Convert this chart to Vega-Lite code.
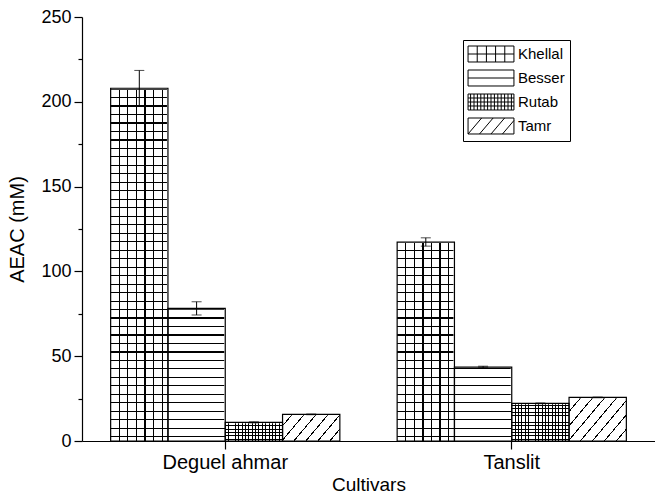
{
 "$schema": "https://vega.github.io/schema/vega-lite/v6.json",
 "width": 573, "height": 424,
 "autosize": {"type": "none"},
 "padding": {"left": 82, "top": 17, "right": 0, "bottom": 57},
 "background": "white",
 "config": {"view": {"stroke": null}, "font": "Liberation Sans"},
 "data": {"values": [
  {"cultivar": "Deguel ahmar", "stage": "Khellal", "value": 208, "lo": 197.8, "hi": 218.5},
  {"cultivar": "Deguel ahmar", "stage": "Besser", "value": 78.2, "lo": 74.3, "hi": 82.1},
  {"cultivar": "Deguel ahmar", "stage": "Rutab", "value": 11, "lo": 10.7, "hi": 11.3},
  {"cultivar": "Deguel ahmar", "stage": "Tamr", "value": 15.7, "lo": 15.5, "hi": 15.9},
  {"cultivar": "Tanslit", "stage": "Khellal", "value": 117.3, "lo": 114.9, "hi": 119.8},
  {"cultivar": "Tanslit", "stage": "Besser", "value": 43.6, "lo": 43.1, "hi": 44.1},
  {"cultivar": "Tanslit", "stage": "Rutab", "value": 22.2, "lo": 22.0, "hi": 22.4},
  {"cultivar": "Tanslit", "stage": "Tamr", "value": 25.7, "lo": 25.5, "hi": 25.9}
 ]},
 "encoding": {
  "x": {"field": "cultivar", "type": "nominal", "sort": ["Deguel ahmar", "Tanslit"],
   "scale": {"paddingInner": 0.2, "paddingOuter": 0.1},
   "axis": {"title": "Cultivars", "labelAngle": 0, "domainColor": "black", "domainWidth": 1.2, "tickColor": "black", "tickWidth": 1.2, "tickSize": 8,
    "labelColor": "black", "labelFont": "Liberation Sans", "labelFontSize": 20, "labelPadding": 3,
    "titleColor": "black", "titleFont": "Liberation Sans", "titleFontSize": 19, "titleFontWeight": "normal", "titlePadding": 3}},
  "xOffset": {"field": "stage", "type": "nominal", "scale": {"domain": ["Khellal", "Besser", "Rutab", "Tamr"], "paddingInner": 0, "paddingOuter": 0}}
 },
 "layer": [
  {"transform": [{"filter": "datum.stage === 'Khellal'"}],
   "mark": {"type": "bar", "strokeWidth": 0, "fill": {"gradient": "linear", "x1": 0, "y1": 0, "x2": 1, "y2": 0, "stops": [
    {"offset": 0, "color": "white"},
    {"offset": 0.139, "color": "white"}, {"offset": 0.139, "color": "black"}, {"offset": 0.161, "color": "black"}, {"offset": 0.161, "color": "white"},
    {"offset": 0.289, "color": "white"}, {"offset": 0.289, "color": "black"}, {"offset": 0.311, "color": "black"}, {"offset": 0.311, "color": "white"},
    {"offset": 0.439, "color": "white"}, {"offset": 0.439, "color": "black"}, {"offset": 0.461, "color": "black"}, {"offset": 0.461, "color": "white"},
    {"offset": 0.589, "color": "white"}, {"offset": 0.589, "color": "black"}, {"offset": 0.611, "color": "black"}, {"offset": 0.611, "color": "white"},
    {"offset": 0.739, "color": "white"}, {"offset": 0.739, "color": "black"}, {"offset": 0.761, "color": "black"}, {"offset": 0.761, "color": "white"},
    {"offset": 0.889, "color": "white"}, {"offset": 0.889, "color": "black"}, {"offset": 0.911, "color": "black"}, {"offset": 0.911, "color": "white"},
    {"offset": 1, "color": "white"}]}},
   "encoding": {
    "y": {"datum": 0, "type": "quantitative", "scale": {"domain": [0, 250], "nice": false},
     "axis": {"title": "AEAC (mM)", "values": [0, 25, 50, 75, 100, 125, 150, 175, 200, 225, 250],
      "labelExpr": "datum.value % 50 === 0 ? datum.label : ''", "labelOverlap": false, "labelFlush": false,
      "tickSize": {"condition": {"test": "datum.value % 50 === 0", "value": 8}, "value": 4},
      "grid": false, "domainColor": "black", "domainWidth": 1.2, "tickColor": "black", "tickWidth": 1.2,
      "labelColor": "black", "labelFont": "Liberation Sans", "labelFontSize": 18, "labelPadding": 3,
      "titleColor": "black", "titleFont": "Liberation Sans", "titleFontSize": 20, "titleFontWeight": "normal", "titlePadding": 13}},
    "y2": {"datum": 250}}},
  {"transform": [{"filter": "datum.stage === 'Khellal' || datum.stage === 'Besser'"}],
   "mark": {"type": "bar", "strokeWidth": 0, "fill": {"gradient": "linear", "x1": 0, "y1": 0, "x2": 0, "y2": 1, "stops": [
    {"offset": 0, "color": "transparent"},
    {"offset": 0.0087, "color": "transparent"}, {"offset": 0.0087, "color": "black"}, {"offset": 0.0113, "color": "black"}, {"offset": 0.0113, "color": "transparent"},
    {"offset": 0.0287, "color": "transparent"}, {"offset": 0.0287, "color": "black"}, {"offset": 0.0313, "color": "black"}, {"offset": 0.0313, "color": "transparent"},
    {"offset": 0.0487, "color": "transparent"}, {"offset": 0.0487, "color": "black"}, {"offset": 0.0513, "color": "black"}, {"offset": 0.0513, "color": "transparent"},
    {"offset": 0.0687, "color": "transparent"}, {"offset": 0.0687, "color": "black"}, {"offset": 0.0713, "color": "black"}, {"offset": 0.0713, "color": "transparent"},
    {"offset": 0.0887, "color": "transparent"}, {"offset": 0.0887, "color": "black"}, {"offset": 0.0913, "color": "black"}, {"offset": 0.0913, "color": "transparent"},
    {"offset": 0.1087, "color": "transparent"}, {"offset": 0.1087, "color": "black"}, {"offset": 0.1113, "color": "black"}, {"offset": 0.1113, "color": "transparent"},
    {"offset": 0.1287, "color": "transparent"}, {"offset": 0.1287, "color": "black"}, {"offset": 0.1313, "color": "black"}, {"offset": 0.1313, "color": "transparent"},
    {"offset": 0.1487, "color": "transparent"}, {"offset": 0.1487, "color": "black"}, {"offset": 0.1513, "color": "black"}, {"offset": 0.1513, "color": "transparent"},
    {"offset": 0.1687, "color": "transparent"}, {"offset": 0.1687, "color": "black"}, {"offset": 0.1713, "color": "black"}, {"offset": 0.1713, "color": "transparent"},
    {"offset": 0.1887, "color": "transparent"}, {"offset": 0.1887, "color": "black"}, {"offset": 0.1913, "color": "black"}, {"offset": 0.1913, "color": "transparent"},
    {"offset": 0.2087, "color": "transparent"}, {"offset": 0.2087, "color": "black"}, {"offset": 0.2113, "color": "black"}, {"offset": 0.2113, "color": "transparent"},
    {"offset": 0.2287, "color": "transparent"}, {"offset": 0.2287, "color": "black"}, {"offset": 0.2313, "color": "black"}, {"offset": 0.2313, "color": "transparent"},
    {"offset": 0.2487, "color": "transparent"}, {"offset": 0.2487, "color": "black"}, {"offset": 0.2513, "color": "black"}, {"offset": 0.2513, "color": "transparent"},
    {"offset": 0.2687, "color": "transparent"}, {"offset": 0.2687, "color": "black"}, {"offset": 0.2713, "color": "black"}, {"offset": 0.2713, "color": "transparent"},
    {"offset": 0.2887, "color": "transparent"}, {"offset": 0.2887, "color": "black"}, {"offset": 0.2913, "color": "black"}, {"offset": 0.2913, "color": "transparent"},
    {"offset": 0.3087, "color": "transparent"}, {"offset": 0.3087, "color": "black"}, {"offset": 0.3113, "color": "black"}, {"offset": 0.3113, "color": "transparent"},
    {"offset": 0.3287, "color": "transparent"}, {"offset": 0.3287, "color": "black"}, {"offset": 0.3313, "color": "black"}, {"offset": 0.3313, "color": "transparent"},
    {"offset": 0.3487, "color": "transparent"}, {"offset": 0.3487, "color": "black"}, {"offset": 0.3513, "color": "black"}, {"offset": 0.3513, "color": "transparent"},
    {"offset": 0.3687, "color": "transparent"}, {"offset": 0.3687, "color": "black"}, {"offset": 0.3713, "color": "black"}, {"offset": 0.3713, "color": "transparent"},
    {"offset": 0.3887, "color": "transparent"}, {"offset": 0.3887, "color": "black"}, {"offset": 0.3913, "color": "black"}, {"offset": 0.3913, "color": "transparent"},
    {"offset": 0.4087, "color": "transparent"}, {"offset": 0.4087, "color": "black"}, {"offset": 0.4113, "color": "black"}, {"offset": 0.4113, "color": "transparent"},
    {"offset": 0.4287, "color": "transparent"}, {"offset": 0.4287, "color": "black"}, {"offset": 0.4313, "color": "black"}, {"offset": 0.4313, "color": "transparent"},
    {"offset": 0.4487, "color": "transparent"}, {"offset": 0.4487, "color": "black"}, {"offset": 0.4513, "color": "black"}, {"offset": 0.4513, "color": "transparent"},
    {"offset": 0.4687, "color": "transparent"}, {"offset": 0.4687, "color": "black"}, {"offset": 0.4713, "color": "black"}, {"offset": 0.4713, "color": "transparent"},
    {"offset": 0.4887, "color": "transparent"}, {"offset": 0.4887, "color": "black"}, {"offset": 0.4913, "color": "black"}, {"offset": 0.4913, "color": "transparent"},
    {"offset": 0.5087, "color": "transparent"}, {"offset": 0.5087, "color": "black"}, {"offset": 0.5113, "color": "black"}, {"offset": 0.5113, "color": "transparent"},
    {"offset": 0.5287, "color": "transparent"}, {"offset": 0.5287, "color": "black"}, {"offset": 0.5313, "color": "black"}, {"offset": 0.5313, "color": "transparent"},
    {"offset": 0.5487, "color": "transparent"}, {"offset": 0.5487, "color": "black"}, {"offset": 0.5513, "color": "black"}, {"offset": 0.5513, "color": "transparent"},
    {"offset": 0.5687, "color": "transparent"}, {"offset": 0.5687, "color": "black"}, {"offset": 0.5713, "color": "black"}, {"offset": 0.5713, "color": "transparent"},
    {"offset": 0.5887, "color": "transparent"}, {"offset": 0.5887, "color": "black"}, {"offset": 0.5913, "color": "black"}, {"offset": 0.5913, "color": "transparent"},
    {"offset": 0.6087, "color": "transparent"}, {"offset": 0.6087, "color": "black"}, {"offset": 0.6113, "color": "black"}, {"offset": 0.6113, "color": "transparent"},
    {"offset": 0.6287, "color": "transparent"}, {"offset": 0.6287, "color": "black"}, {"offset": 0.6313, "color": "black"}, {"offset": 0.6313, "color": "transparent"},
    {"offset": 0.6487, "color": "transparent"}, {"offset": 0.6487, "color": "black"}, {"offset": 0.6513, "color": "black"}, {"offset": 0.6513, "color": "transparent"},
    {"offset": 0.6687, "color": "transparent"}, {"offset": 0.6687, "color": "black"}, {"offset": 0.6713, "color": "black"}, {"offset": 0.6713, "color": "transparent"},
    {"offset": 0.6887, "color": "transparent"}, {"offset": 0.6887, "color": "black"}, {"offset": 0.6913, "color": "black"}, {"offset": 0.6913, "color": "transparent"},
    {"offset": 0.7087, "color": "transparent"}, {"offset": 0.7087, "color": "black"}, {"offset": 0.7113, "color": "black"}, {"offset": 0.7113, "color": "transparent"},
    {"offset": 0.7287, "color": "transparent"}, {"offset": 0.7287, "color": "black"}, {"offset": 0.7313, "color": "black"}, {"offset": 0.7313, "color": "transparent"},
    {"offset": 0.7487, "color": "transparent"}, {"offset": 0.7487, "color": "black"}, {"offset": 0.7513, "color": "black"}, {"offset": 0.7513, "color": "transparent"},
    {"offset": 0.7687, "color": "transparent"}, {"offset": 0.7687, "color": "black"}, {"offset": 0.7713, "color": "black"}, {"offset": 0.7713, "color": "transparent"},
    {"offset": 0.7887, "color": "transparent"}, {"offset": 0.7887, "color": "black"}, {"offset": 0.7913, "color": "black"}, {"offset": 0.7913, "color": "transparent"},
    {"offset": 0.8087, "color": "transparent"}, {"offset": 0.8087, "color": "black"}, {"offset": 0.8113, "color": "black"}, {"offset": 0.8113, "color": "transparent"},
    {"offset": 0.8287, "color": "transparent"}, {"offset": 0.8287, "color": "black"}, {"offset": 0.8313, "color": "black"}, {"offset": 0.8313, "color": "transparent"},
    {"offset": 0.8487, "color": "transparent"}, {"offset": 0.8487, "color": "black"}, {"offset": 0.8513, "color": "black"}, {"offset": 0.8513, "color": "transparent"},
    {"offset": 0.8687, "color": "transparent"}, {"offset": 0.8687, "color": "black"}, {"offset": 0.8713, "color": "black"}, {"offset": 0.8713, "color": "transparent"},
    {"offset": 0.8887, "color": "transparent"}, {"offset": 0.8887, "color": "black"}, {"offset": 0.8913, "color": "black"}, {"offset": 0.8913, "color": "transparent"},
    {"offset": 0.9087, "color": "transparent"}, {"offset": 0.9087, "color": "black"}, {"offset": 0.9113, "color": "black"}, {"offset": 0.9113, "color": "transparent"},
    {"offset": 0.9287, "color": "transparent"}, {"offset": 0.9287, "color": "black"}, {"offset": 0.9313, "color": "black"}, {"offset": 0.9313, "color": "transparent"},
    {"offset": 0.9487, "color": "transparent"}, {"offset": 0.9487, "color": "black"}, {"offset": 0.9513, "color": "black"}, {"offset": 0.9513, "color": "transparent"},
    {"offset": 0.9687, "color": "transparent"}, {"offset": 0.9687, "color": "black"}, {"offset": 0.9713, "color": "black"}, {"offset": 0.9713, "color": "transparent"},
    {"offset": 0.9887, "color": "transparent"}, {"offset": 0.9887, "color": "black"}, {"offset": 0.9913, "color": "black"}, {"offset": 0.9913, "color": "transparent"},
    {"offset": 1, "color": "transparent"}]}},
   "encoding": {"y": {"datum": 0}, "y2": {"datum": 250}}},
  {"transform": [{"filter": "datum.stage === 'Rutab'"}],
   "mark": {"type": "bar", "strokeWidth": 0, "fill": {"gradient": "linear", "x1": 0, "y1": 0, "x2": 1, "y2": 0, "stops": [
    {"offset": 0, "color": "white"},
    {"offset": 0.0508, "color": "white"}, {"offset": 0.0508, "color": "black"}, {"offset": 0.0668, "color": "black"}, {"offset": 0.0668, "color": "white"},
    {"offset": 0.1096, "color": "white"}, {"offset": 0.1096, "color": "black"}, {"offset": 0.1256, "color": "black"}, {"offset": 0.1256, "color": "white"},
    {"offset": 0.1685, "color": "white"}, {"offset": 0.1685, "color": "black"}, {"offset": 0.1845, "color": "black"}, {"offset": 0.1845, "color": "white"},
    {"offset": 0.2273, "color": "white"}, {"offset": 0.2273, "color": "black"}, {"offset": 0.2433, "color": "black"}, {"offset": 0.2433, "color": "white"},
    {"offset": 0.2861, "color": "white"}, {"offset": 0.2861, "color": "black"}, {"offset": 0.3021, "color": "black"}, {"offset": 0.3021, "color": "white"},
    {"offset": 0.3449, "color": "white"}, {"offset": 0.3449, "color": "black"}, {"offset": 0.3609, "color": "black"}, {"offset": 0.3609, "color": "white"},
    {"offset": 0.4038, "color": "white"}, {"offset": 0.4038, "color": "black"}, {"offset": 0.4198, "color": "black"}, {"offset": 0.4198, "color": "white"},
    {"offset": 0.4626, "color": "white"}, {"offset": 0.4626, "color": "black"}, {"offset": 0.4786, "color": "black"}, {"offset": 0.4786, "color": "white"},
    {"offset": 0.5214, "color": "white"}, {"offset": 0.5214, "color": "black"}, {"offset": 0.5374, "color": "black"}, {"offset": 0.5374, "color": "white"},
    {"offset": 0.5802, "color": "white"}, {"offset": 0.5802, "color": "black"}, {"offset": 0.5962, "color": "black"}, {"offset": 0.5962, "color": "white"},
    {"offset": 0.6391, "color": "white"}, {"offset": 0.6391, "color": "black"}, {"offset": 0.6551, "color": "black"}, {"offset": 0.6551, "color": "white"},
    {"offset": 0.6979, "color": "white"}, {"offset": 0.6979, "color": "black"}, {"offset": 0.7139, "color": "black"}, {"offset": 0.7139, "color": "white"},
    {"offset": 0.7567, "color": "white"}, {"offset": 0.7567, "color": "black"}, {"offset": 0.7727, "color": "black"}, {"offset": 0.7727, "color": "white"},
    {"offset": 0.8155, "color": "white"}, {"offset": 0.8155, "color": "black"}, {"offset": 0.8315, "color": "black"}, {"offset": 0.8315, "color": "white"},
    {"offset": 0.8744, "color": "white"}, {"offset": 0.8744, "color": "black"}, {"offset": 0.8904, "color": "black"}, {"offset": 0.8904, "color": "white"},
    {"offset": 0.9332, "color": "white"}, {"offset": 0.9332, "color": "black"}, {"offset": 0.9492, "color": "black"}, {"offset": 0.9492, "color": "white"},
    {"offset": 1, "color": "white"}]}},
   "encoding": {"y": {"datum": 0}, "y2": {"datum": 25}}},
  {"transform": [{"filter": "datum.stage === 'Rutab'"}],
   "mark": {"type": "bar", "strokeWidth": 0, "fill": {"gradient": "linear", "x1": 0, "y1": 0, "x2": 0, "y2": 1, "stops": [
    {"offset": 0, "color": "transparent"},
    {"offset": 0.07, "color": "transparent"}, {"offset": 0.07, "color": "black"}, {"offset": 0.09, "color": "black"}, {"offset": 0.09, "color": "transparent"},
    {"offset": 0.15, "color": "transparent"}, {"offset": 0.15, "color": "black"}, {"offset": 0.17, "color": "black"}, {"offset": 0.17, "color": "transparent"},
    {"offset": 0.23, "color": "transparent"}, {"offset": 0.23, "color": "black"}, {"offset": 0.25, "color": "black"}, {"offset": 0.25, "color": "transparent"},
    {"offset": 0.31, "color": "transparent"}, {"offset": 0.31, "color": "black"}, {"offset": 0.33, "color": "black"}, {"offset": 0.33, "color": "transparent"},
    {"offset": 0.39, "color": "transparent"}, {"offset": 0.39, "color": "black"}, {"offset": 0.41, "color": "black"}, {"offset": 0.41, "color": "transparent"},
    {"offset": 0.47, "color": "transparent"}, {"offset": 0.47, "color": "black"}, {"offset": 0.49, "color": "black"}, {"offset": 0.49, "color": "transparent"},
    {"offset": 0.55, "color": "transparent"}, {"offset": 0.55, "color": "black"}, {"offset": 0.57, "color": "black"}, {"offset": 0.57, "color": "transparent"},
    {"offset": 0.63, "color": "transparent"}, {"offset": 0.63, "color": "black"}, {"offset": 0.65, "color": "black"}, {"offset": 0.65, "color": "transparent"},
    {"offset": 0.71, "color": "transparent"}, {"offset": 0.71, "color": "black"}, {"offset": 0.73, "color": "black"}, {"offset": 0.73, "color": "transparent"},
    {"offset": 0.79, "color": "transparent"}, {"offset": 0.79, "color": "black"}, {"offset": 0.81, "color": "black"}, {"offset": 0.81, "color": "transparent"},
    {"offset": 0.87, "color": "transparent"}, {"offset": 0.87, "color": "black"}, {"offset": 0.89, "color": "black"}, {"offset": 0.89, "color": "transparent"},
    {"offset": 0.95, "color": "transparent"}, {"offset": 0.95, "color": "black"}, {"offset": 0.97, "color": "black"}, {"offset": 0.97, "color": "transparent"},
    {"offset": 1, "color": "transparent"}]}},
   "encoding": {"y": {"datum": 0}, "y2": {"datum": 25}}},
  {"transform": [{"filter": "datum.stage === 'Tamr'"}],
   "mark": {"type": "bar", "strokeWidth": 0, "fill": {"gradient": "linear", "x1": 0, "y1": 0, "x2": 1.1217, "y2": 0.8368, "stops": [
    {"offset": 0, "color": "white"},
    {"offset": 0.0535, "color": "white"}, {"offset": 0.0535, "color": "black"}, {"offset": 0.0665, "color": "black"}, {"offset": 0.0665, "color": "white"},
    {"offset": 0.1735, "color": "white"}, {"offset": 0.1735, "color": "black"}, {"offset": 0.1865, "color": "black"}, {"offset": 0.1865, "color": "white"},
    {"offset": 0.2935, "color": "white"}, {"offset": 0.2935, "color": "black"}, {"offset": 0.3065, "color": "black"}, {"offset": 0.3065, "color": "white"},
    {"offset": 0.4135, "color": "white"}, {"offset": 0.4135, "color": "black"}, {"offset": 0.4265, "color": "black"}, {"offset": 0.4265, "color": "white"},
    {"offset": 0.5335, "color": "white"}, {"offset": 0.5335, "color": "black"}, {"offset": 0.5465, "color": "black"}, {"offset": 0.5465, "color": "white"},
    {"offset": 0.6535, "color": "white"}, {"offset": 0.6535, "color": "black"}, {"offset": 0.6665, "color": "black"}, {"offset": 0.6665, "color": "white"},
    {"offset": 0.7735, "color": "white"}, {"offset": 0.7735, "color": "black"}, {"offset": 0.7865, "color": "black"}, {"offset": 0.7865, "color": "white"},
    {"offset": 0.8935, "color": "white"}, {"offset": 0.8935, "color": "black"}, {"offset": 0.9065, "color": "black"}, {"offset": 0.9065, "color": "white"},
    {"offset": 1, "color": "white"}]}},
   "encoding": {"y": {"datum": 0}, "y2": {"datum": 30}}},
  {"mark": {"type": "bar", "fill": "white", "stroke": "white", "strokeWidth": 2},
   "encoding": {"y": {"field": "value", "type": "quantitative"}, "y2": {"datum": 250}}},
  {"mark": {"type": "bar", "fill": "transparent", "stroke": "black", "strokeWidth": 1.2},
   "encoding": {"y": {"field": "value", "type": "quantitative"}, "y2": {"datum": 0}}},
  {"mark": {"type": "rule", "color": "black", "strokeWidth": 1},
   "encoding": {"y": {"field": "lo", "type": "quantitative"}, "y2": {"field": "hi"}}},
  {"mark": {"type": "tick", "color": "black", "size": 10, "thickness": 1},
   "encoding": {"y": {"field": "lo", "type": "quantitative"}}},
  {"mark": {"type": "tick", "color": "black", "size": 10, "thickness": 1},
   "encoding": {"y": {"field": "hi", "type": "quantitative"}}},
  {"mark": {"type": "point", "opacity": 0, "color": "black"},
   "encoding": {"y": {"field": "value", "type": "quantitative"},
    "shape": {"field": "stage", "type": "nominal",
     "scale": {"domain": ["Khellal", "Besser", "Rutab", "Tamr"],
      "range": [
       "M-2.7,-0.94H2.7V0.94H-2.7ZM-1.62,-0.94V0.94M-0.54,-0.94V0.94M0.54,-0.94V0.94M1.62,-0.94V0.94M-2.7,0H2.7",
       "M-2.7,-0.94H2.7V0.94H-2.7ZM-2.7,0H2.7",
       "M-2.7,-0.94H2.7V0.94H-2.7ZM-2.7,-0.47H2.7M-2.7,0H2.7M-2.7,0.47H2.7M-2.4,-0.94V0.94M-2,-0.94V0.94M-1.6,-0.94V0.94M-1.2,-0.94V0.94M-0.8,-0.94V0.94M-0.4,-0.94V0.94M0,-0.94V0.94M0.4,-0.94V0.94M0.8,-0.94V0.94M1.2,-0.94V0.94M1.6,-0.94V0.94M2,-0.94V0.94M2.4,-0.94V0.94",
       "M-2.7,-0.94H2.7V0.94H-2.7ZM-2.7,0.94L-1.1,-0.94M-1.35,0.94L0.25,-0.94M0,0.94L1.6,-0.94M1.35,0.94L2.7,-0.646"]},
     "legend": {"title": null, "orient": "none", "legendX": 381, "legendY": 23, "padding": 5, "rowPadding": 4,
      "symbolOffset": 14, "labelOffset": 18, "strokeColor": "black", "fillColor": "white",
      "symbolSize": 289, "symbolStrokeColor": "black", "symbolFillColor": "white", "symbolStrokeWidth": 1, "symbolOpacity": 1,
      "labelFont": "Liberation Sans", "labelFontSize": 15, "labelColor": "black"}}}}
 ]
}
